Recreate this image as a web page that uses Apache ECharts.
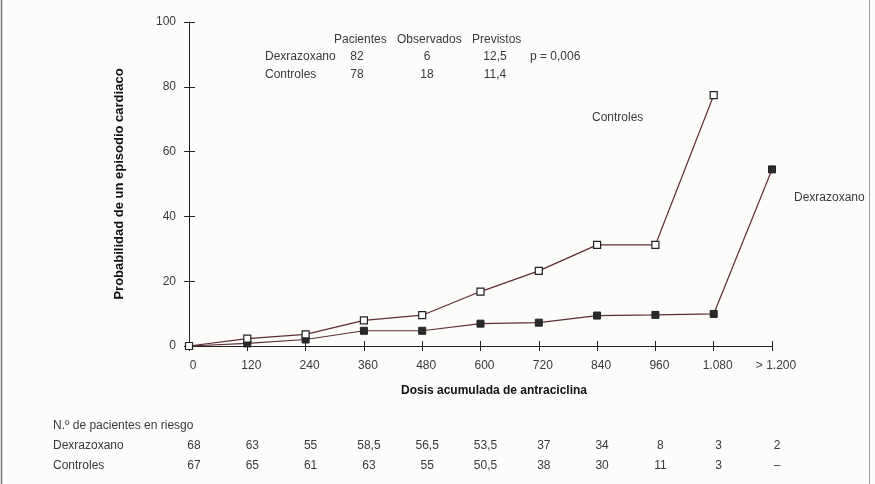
<!DOCTYPE html>
<html><head><meta charset="utf-8">
<script src="https://cdn.jsdelivr.net/npm/echarts@6/dist/echarts.min.js"></script>
<style>html,body{margin:0;padding:0;background:#fcfcfa}#c{width:875px;height:484px}</style>
</head><body><div id="c"></div>
<script>
const doses = [0,120,240,360,480,600,720,840,960,1080,1200];
const xTickLabels = ['0','120','240','360','480','600','720','840','960','1.080','> 1.200'];
const controles = [0,2.3,3.6,7.9,9.5,16.8,23.2,31.2,31.2,77.4];
const dexrazoxano = [0,0.8,2.0,4.7,4.7,6.9,7.2,9.4,9.6,9.9,54.5];
const riskDex = ['68','63','55','58,5','56,5','53,5','37','34','8','3','2'];
const riskCtl = ['67','65','61','63','55','50,5','38','30','11','3','–'];
const tableHeader = ['Pacientes','Observados','Previstos'];
const tableDex = ['Dexrazoxano','82','6','12,5','p = 0,006'];
const tableCtl = ['Controles','78','18','11,4'];
const riskTitle = 'N.º de pacientes en riesgo';

const FONT = 'Liberation Sans';
const TXT = '#3a3a3a';
const LINE = '#5e2c33';

const chart = echarts.init(document.getElementById('c'), null, {renderer:'canvas'});
const axBase = {
  type:'value', splitLine:{show:false}
};
const option = {
  backgroundColor:'#fcfcfa',
  animation:false,
  textStyle:{fontFamily:FONT},
  grid:{left:189, right:103, top:22, bottom:138},
  xAxis:[
    Object.assign({}, axBase, {
      min:0, max:1200, interval:120,
      axisLine:{lineStyle:{color:'#222', width:1}},
      axisTick:{show:true, inside:false, length:5, lineStyle:{color:'#222'}},
      axisLabel:{margin:14, color:TXT, fontSize:12, fontFamily:FONT, padding:[0,0,0,8],
        formatter:v => { const i = doses.indexOf(v); return i>=0 ? xTickLabels[i] : ''; }}
    }),
    Object.assign({}, axBase, {
      min:0, max:1200, interval:120, position:'bottom',
      axisLine:{show:false},
      axisTick:{show:true, inside:true, length:5, lineStyle:{color:'#222'}},
      axisLabel:{show:false}
    })
  ],
  yAxis:[
    Object.assign({}, axBase, {
      min:0, max:100, interval:20,
      name:'Probabilidad de un episodio cardiaco', nameLocation:'middle', nameGap:63,
      nameTextStyle:{fontWeight:'bold', fontSize:13, color:'#111', fontFamily:FONT},
      axisLine:{show:true, lineStyle:{color:'#222', width:1}},
      axisTick:{show:true, inside:false, length:5, lineStyle:{color:'#222'}},
      axisLabel:{margin:13, color:TXT, fontSize:12, fontFamily:FONT}
    }),
    Object.assign({}, axBase, {
      min:0, max:100, interval:20, position:'left',
      axisLine:{show:false},
      axisTick:{show:true, inside:true, length:6, lineStyle:{color:'#222'}},
      axisLabel:{show:false}
    })
  ],
  series:[
    {
      name:'Controles', type:'line', xAxisIndex:0, yAxisIndex:0,
      data: controles.map((v,i)=>[doses[i], v]),
      symbol:'rect', symbolSize:7,
      lineStyle:{color:LINE, width:1.2},
      itemStyle:{color:'#ffffff', borderColor:'#222', borderWidth:1.2},
      z:3
    },
    {
      name:'Dexrazoxano', type:'line', xAxisIndex:0, yAxisIndex:0,
      data: dexrazoxano.map((v,i)=>[doses[i], v]),
      symbol:'rect', symbolSize:7,
      lineStyle:{color:LINE, width:1.2},
      itemStyle:{color:'#2a2a2a', borderColor:'#222', borderWidth:1},
      z:2
    }
  ]
};
chart.setOption(option);

function txt(x, y, s, opts){
  return Object.assign({type:'text', x:x, y:y, silent:true,
    style:Object.assign({text:s, fill:TXT, font:'12px "'+FONT+'"', textVerticalAlign:'middle', textAlign:'left'}, opts||{})});
}
const els = [];
// frame
els.push({type:'line', shape:{x1:1.5,y1:0,x2:1.5,y2:484}, style:{stroke:'#777', lineWidth:1.5}});
els.push({type:'line', shape:{x1:869.5,y1:0,x2:869.5,y2:484}, style:{stroke:'#999', lineWidth:1}});
// x axis title
els.push(txt(494, 391, 'Dosis acumulada de antraciclina', {textAlign:'center', fill:'#111', font:'bold 12px "'+FONT+'"'}));
// line labels
els.push(txt(592, 118, 'Controles'));
els.push(txt(794, 198, 'Dexrazoxano'));
// top table
els.push(txt(334, 40, tableHeader[0]));
els.push(txt(397, 40, tableHeader[1]));
els.push(txt(472, 40, tableHeader[2]));
const colC = [null, 357, 427, 495];
els.push(txt(265, 57, tableDex[0]));
els.push(txt(265, 75, tableCtl[0]));
for (let i=1;i<4;i++){
  els.push(txt(colC[i], 57, tableDex[i], {textAlign:'center'}));
  els.push(txt(colC[i], 75, tableCtl[i], {textAlign:'center'}));
}
els.push(txt(530, 57, tableDex[4]));
// risk table
els.push(txt(53, 426, riskTitle));
els.push(txt(53, 446, tableDex[0]));
els.push(txt(53, 466, tableCtl[0]));
doses.forEach((d,i)=>{
  const px = chart.convertToPixel({xAxisIndex:0}, d) + 5;
  els.push(txt(px, 446, riskDex[i], {textAlign:'center'}));
  els.push(txt(px, 466, riskCtl[i], {textAlign:'center'}));
});
chart.setOption({graphic:{elements:els}});
</script>
</body></html>
